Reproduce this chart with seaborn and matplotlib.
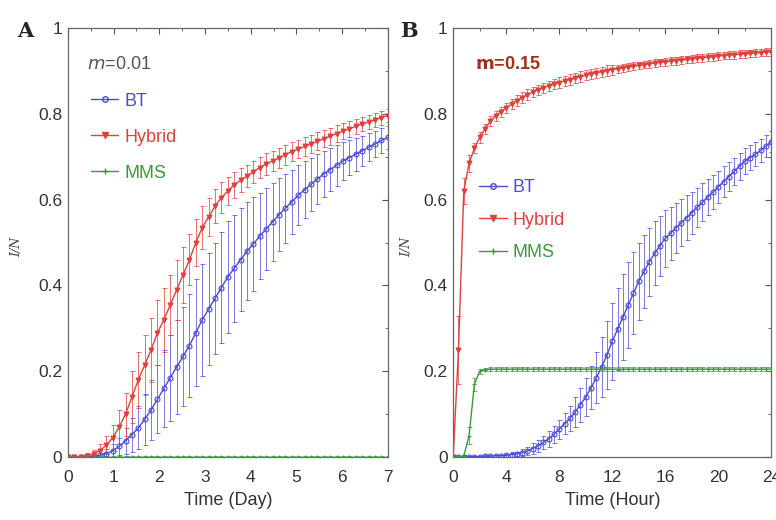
import numpy as np
import pandas as pd
import seaborn as sns
import matplotlib.pyplot as plt
from matplotlib.lines import Line2D
from matplotlib.ticker import MultipleLocator, FuncFormatter

# panel A: time in days, sampled every 0.14 day
day_time = np.round(np.arange(51) * 0.14, 2)

a_hybrid = [0.000, 0.000, 0.001, 0.003, 0.007, 0.015, 0.028, 0.045, 0.070, 0.100,
            0.140, 0.180, 0.215, 0.250, 0.290, 0.320, 0.355, 0.390, 0.425, 0.460,
            0.500, 0.535, 0.560, 0.585, 0.605, 0.620, 0.635, 0.645, 0.655, 0.665,
            0.675, 0.683, 0.690, 0.697, 0.705, 0.712, 0.718, 0.724, 0.730, 0.736,
            0.742, 0.748, 0.754, 0.760, 0.765, 0.771, 0.776, 0.781, 0.786, 0.791,
            0.796]
a_hybrid_err = [0.002, 0.003, 0.004, 0.006, 0.010, 0.015, 0.020, 0.030, 0.040, 0.050,
                0.060, 0.065, 0.070, 0.075, 0.075, 0.075, 0.070, 0.070, 0.065, 0.060,
                0.055, 0.050, 0.045, 0.040, 0.036, 0.033, 0.030, 0.028, 0.026, 0.026,
                0.025, 0.025, 0.024, 0.024, 0.023, 0.023, 0.022, 0.022, 0.021, 0.021,
                0.020, 0.020, 0.019, 0.019, 0.018, 0.018, 0.017, 0.017, 0.016, 0.016,
                0.015]
a_bt = [0.000, 0.000, 0.000, 0.001, 0.002, 0.004, 0.008, 0.015, 0.025, 0.038,
        0.052, 0.068, 0.088, 0.110, 0.135, 0.160, 0.185, 0.210, 0.235, 0.260,
        0.290, 0.320, 0.345, 0.370, 0.395, 0.420, 0.440, 0.460, 0.480, 0.497,
        0.515, 0.532, 0.548, 0.565, 0.580, 0.595, 0.610, 0.623, 0.636, 0.648,
        0.660, 0.670, 0.680, 0.690, 0.698, 0.706, 0.714, 0.722, 0.730, 0.738,
        0.745]
a_bt_err = [0.001, 0.001, 0.001, 0.002, 0.003, 0.005, 0.010, 0.015, 0.020, 0.030,
            0.040, 0.050, 0.060, 0.070, 0.080, 0.090, 0.100, 0.110, 0.115, 0.120,
            0.125, 0.130, 0.130, 0.130, 0.130, 0.130, 0.125, 0.120, 0.115, 0.110,
            0.100, 0.095, 0.090, 0.085, 0.080, 0.075, 0.070, 0.066, 0.062, 0.058,
            0.054, 0.050, 0.047, 0.044, 0.041, 0.038, 0.035, 0.033, 0.031, 0.029,
            0.027]
a_mms = [0.0] * 51
a_mms_err = [0.002] * 51

# panel B: time in hours, sampled every 0.4 hour
hour_time = np.round(np.arange(61) * 0.4, 1)

b_hybrid = [0.000, 0.250, 0.620, 0.685, 0.720, 0.745, 0.765, 0.783, 0.795, 0.805,
            0.814, 0.823, 0.831, 0.838, 0.845, 0.851, 0.856, 0.861, 0.865, 0.869,
            0.873, 0.877, 0.880, 0.884, 0.887, 0.890, 0.893, 0.896, 0.898, 0.901,
            0.903, 0.905, 0.907, 0.909, 0.911, 0.913, 0.915, 0.917, 0.918, 0.920,
            0.921, 0.923, 0.924, 0.926, 0.927, 0.928, 0.930, 0.931, 0.932, 0.933,
            0.935, 0.936, 0.937, 0.938, 0.939, 0.940, 0.941, 0.942, 0.943, 0.944,
            0.945]
b_hybrid_err = [0.000, 0.080, 0.030, 0.020] + [0.012] * 27 + [0.009] * 30
b_bt = [0.000, 0.000, 0.000, 0.001, 0.001, 0.001, 0.002, 0.002, 0.003, 0.003,
        0.004, 0.006, 0.007, 0.010, 0.014, 0.020, 0.026, 0.034, 0.042, 0.053,
        0.065, 0.078, 0.090, 0.105, 0.122, 0.140, 0.162, 0.185, 0.210, 0.238,
        0.270, 0.298, 0.326, 0.354, 0.382, 0.410, 0.433, 0.455, 0.475, 0.493,
        0.510, 0.522, 0.534, 0.546, 0.558, 0.570, 0.582, 0.594, 0.606, 0.618,
        0.630, 0.642, 0.654, 0.666, 0.678, 0.690, 0.698, 0.706, 0.715, 0.725,
        0.735]
b_bt_err = [0.000, 0.000, 0.000, 0.001, 0.001, 0.001, 0.002, 0.002, 0.003, 0.003,
            0.004, 0.005, 0.006, 0.008, 0.010, 0.012, 0.014, 0.016, 0.018, 0.020,
            0.022, 0.025, 0.030, 0.035, 0.040, 0.045, 0.050, 0.060, 0.070, 0.080,
            0.090, 0.095, 0.100, 0.100, 0.095, 0.090, 0.085, 0.080, 0.075, 0.070,
            0.066, 0.062, 0.058, 0.055, 0.052, 0.049, 0.046, 0.044, 0.042, 0.040,
            0.038, 0.036, 0.034, 0.032, 0.031, 0.030, 0.029, 0.028, 0.027, 0.026,
            0.025]
b_mms = [0.000, 0.000, 0.003, 0.050, 0.170, 0.200, 0.204] + [0.205] * 54
b_mms_err = [0.000, 0.000, 0.003, 0.020, 0.015, 0.006] + [0.004] * 55

models = ["BT", "Hybrid", "MMS"]
colors = {"BT": "#4b4bd6", "Hybrid": "#e0403c", "MMS": "#3a9a3a"}
markers = {"BT": "o", "Hybrid": "v", "MMS": "+"}
face = {"BT": "none", "Hybrid": "#e0403c", "MMS": "#3a9a3a"}

FONT = ["Liberation Sans Narrow", "Liberation Sans", "DejaVu Sans"]


def draw_panel(ax, time, values, errors, xmax, xmajor, xminor, xlabel, ylab_x):
    for name in models:
        ax.errorbar(time, values[name], yerr=errors[name], fmt="none",
                    ecolor=colors[name], elinewidth=0.7, capsize=1.8,
                    capthick=0.7, alpha=0.75, zorder=2)
    for name in models:
        df = pd.DataFrame({"time": time, "frac": values[name]})
        sns.lineplot(data=df, x="time", y="frac", ax=ax, color=colors[name],
                     marker=markers[name], markersize=3.5, markeredgewidth=0.8,
                     markerfacecolor=face[name], markeredgecolor=colors[name],
                     linewidth=1.0, errorbar=None, zorder=3)
    ax.set_xlim(0, xmax)
    ax.set_ylim(0, 1)
    ax.xaxis.set_major_locator(MultipleLocator(xmajor))
    ax.xaxis.set_minor_locator(MultipleLocator(xminor))
    ax.yaxis.set_major_locator(MultipleLocator(0.2))
    ax.yaxis.set_minor_locator(MultipleLocator(0.1))
    ax.yaxis.set_major_formatter(FuncFormatter(lambda v, p: f"{v:g}"))
    ax.tick_params(which="both", direction="in", top=True, right=True,
                   colors="#555555", labelsize=12.5)
    ax.tick_params(axis="x", pad=9)
    ax.tick_params(axis="y", pad=4)
    ax.tick_params(which="major", length=4)
    ax.tick_params(which="minor", length=2)
    for lab in ax.get_xticklabels() + ax.get_yticklabels():
        lab.set_family(FONT)
        lab.set_color("#333333")
    for sp in ax.spines.values():
        sp.set_color("#666666")
        sp.set_linewidth(0.9)
    ax.set_xlabel(xlabel, fontsize=13, family=FONT, color="#333333", labelpad=5)
    ax.set_ylabel("I/N", fontsize=9, style="italic", family="DejaVu Serif",
                  color="#444444")
    ax.yaxis.set_label_coords(ylab_x, 0.49)


sns.set_style("white")
plt.rcParams["font.family"] = FONT

fig = plt.figure(figsize=(7.76, 5.2), dpi=100)
ax_a = fig.add_axes([0.0876, 0.121, 0.412, 0.825])
ax_b = fig.add_axes([0.584, 0.121, 0.410, 0.825])

draw_panel(ax_a, day_time,
           {"BT": a_bt, "Hybrid": a_hybrid, "MMS": a_mms},
           {"BT": a_bt_err, "Hybrid": a_hybrid_err, "MMS": a_mms_err},
           7, 1, 0.5, "Time (Day)", -0.14)
draw_panel(ax_b, hour_time,
           {"BT": b_bt, "Hybrid": b_hybrid, "MMS": b_mms},
           {"BT": b_bt_err, "Hybrid": b_hybrid_err, "MMS": b_mms_err},
           24, 4, 2, "Time (Hour)", -0.125)

handles = [Line2D([0], [0], color=colors[n], marker=markers[n], markersize=4,
                  markerfacecolor=face[n], markeredgecolor=colors[n], lw=1.0)
           for n in models]

ax_a.legend(handles, models, loc="upper left", bbox_to_anchor=(0.05, 0.866),
            frameon=False, labelcolor="linecolor", fontsize=13,
            handlelength=1.5, handletextpad=0.35, labelspacing=1.05,
            borderaxespad=0)
ax_b.legend(handles, models, loc="upper left", bbox_to_anchor=(0.06, 0.664),
            frameon=False, labelcolor="linecolor", fontsize=13,
            handlelength=1.5, handletextpad=0.35, labelspacing=0.85,
            borderaxespad=0)

ax_a.text(0.06, 0.915, "$m$=0.01", transform=ax_a.transAxes, fontsize=13,
          color="#555555", va="center", ha="left")
ax_b.text(0.07, 0.915, "$\\mathbf{m}$=0.15", transform=ax_b.transAxes, fontsize=13,
          color="#a0301a", fontweight="bold", va="center", ha="left")

fig.text(0.032, 0.94, "A", fontsize=15, fontweight="bold", family="DejaVu Serif",
         va="center", ha="center")
fig.text(0.527, 0.94, "B", fontsize=15, fontweight="bold", family="DejaVu Serif",
         va="center", ha="center")

fig.savefig("out.png", dpi=100)
